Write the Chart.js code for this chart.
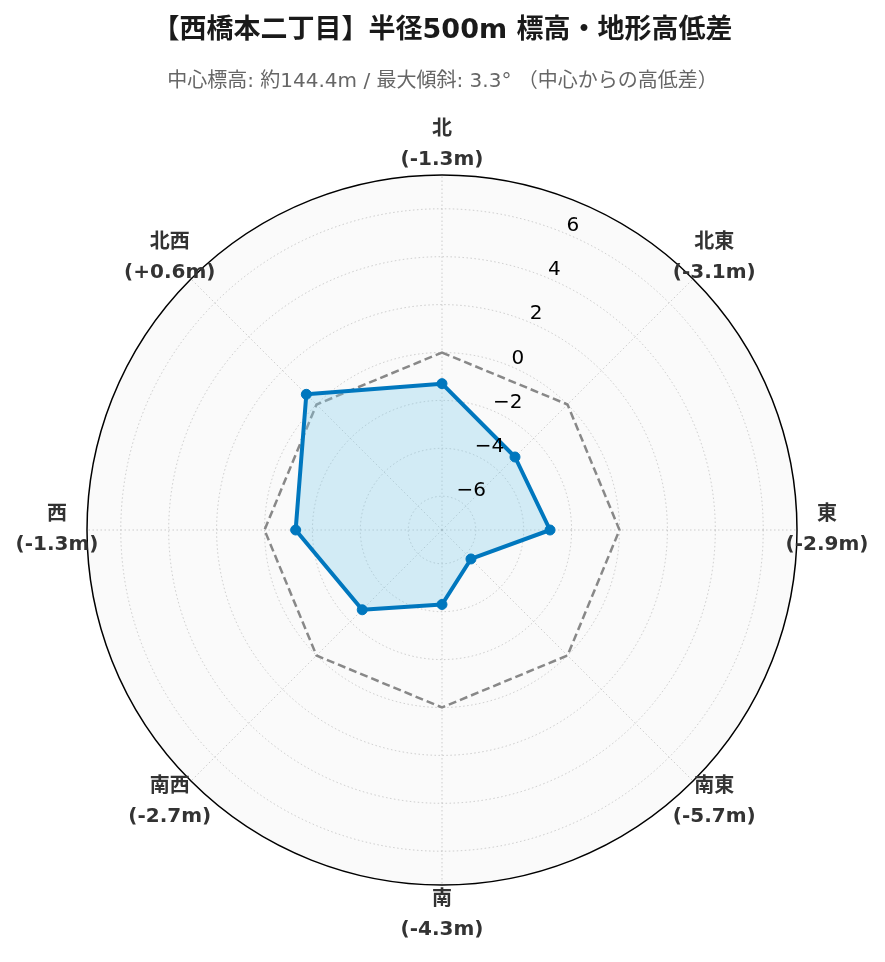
<!DOCTYPE html>
<html lang="ja">
<head>
<meta charset="utf-8">
<title>西橋本二丁目 標高・地形高低差</title>
<script src="https://cdn.jsdelivr.net/npm/chart.js@4.4.1/dist/chart.umd.min.js"></script>
<style>
  html, body { margin: 0; padding: 0; background: #ffffff; }
  #wrap { position: relative; width: 885px; height: 962px; }
</style>
</head>
<body>
<div id="wrap"><canvas id="terrainChart"></canvas></div>
<script>
// directions clockwise from north
const directions = ['北', '北東', '東', '南東', '南', '南西', '西', '北西'];
// height difference from the centre point (m)
const heightDiff = [-1.3, -3.1, -2.9, -5.7, -4.3, -2.7, -1.3, 0.6];
const zeroLine = [0, 0, 0, 0, 0, 0, 0, 0];
const radialTicks = [-6, -4, -2, 0, 2, 4, 6];
const rMin = -7.41;
const rMax = 7.41;

const FONT = '"DejaVu Sans", "Noto Sans CJK JP", sans-serif';
const GRID = 'rgba(160, 160, 160, 0.5)';

function fmtDiff(v) {
  return '(' + (v > 0 ? '+' : '') + v.toFixed(1) + 'm)';
}
function fmtTick(v) {
  return v < 0 ? '\u2212' + Math.abs(v) : String(v);
}

// light background inside the polar area
const polarBackground = {
  id: 'polarBackground',
  beforeDraw(chart) {
    const s = chart.scales.r;
    const ctx = chart.ctx;
    ctx.save();
    ctx.beginPath();
    ctx.arc(s.xCenter, s.yCenter, s.drawingArea, 0, Math.PI * 2);
    ctx.fillStyle = '#fafafa';
    ctx.fill();
    ctx.restore();
  }
};

// outer ring, radial tick labels and direction labels
const polarDecor = {
  id: 'polarDecor',
  afterDraw(chart) {
    const s = chart.scales.r;
    const ctx = chart.ctx;
    ctx.save();

    ctx.beginPath();
    ctx.arc(s.xCenter, s.yCenter, s.drawingArea, 0, Math.PI * 2);
    ctx.strokeStyle = '#000000';
    ctx.lineWidth = 1.5;
    ctx.stroke();

    // r tick labels along 22.5 deg
    const a = 22.5 * Math.PI / 180;
    ctx.font = '20px ' + FONT;
    ctx.fillStyle = '#000000';
    ctx.textAlign = 'left';
    ctx.textBaseline = 'alphabetic';
    radialTicks.forEach(v => {
      const d = s.getDistanceFromCenterForValue(v);
      const x = s.xCenter + d * Math.sin(a) + 1.5;
      const y = s.yCenter - d * Math.cos(a) - 2.5;
      ctx.fillText(fmtTick(v), x, y);
    });

    // direction labels
    ctx.font = 'bold 20px ' + FONT;
    ctx.fillStyle = '#333333';
    ctx.textAlign = 'center';
    ctx.textBaseline = 'middle';
    chart.data.labels.forEach((lab, i) => {
      const p = s.getPointPosition(i, s.drawingArea + 30);
      ctx.fillText(lab, p.x, p.y - 15);
      ctx.fillText(fmtDiff(heightDiff[i]), p.x, p.y + 15);
    });
    ctx.restore();
  }
};

new Chart(document.getElementById('terrainChart'), {
  type: 'radar',
  data: {
    labels: directions,
    datasets: [
      {
        label: '高低差',
        data: heightDiff,
        borderColor: '#0077BE',
        backgroundColor: 'rgba(135, 206, 235, 0.35)',
        borderWidth: 4,
        borderJoinStyle: 'round',
        fill: 'start',
        pointRadius: 5,
        pointBackgroundColor: '#0077BE',
        pointBorderColor: '#0077BE',
        pointBorderWidth: 1,
        order: 0
      },
      {
        label: '中心標高',
        data: zeroLine,
        borderColor: '#888888',
        borderWidth: 2.5,
        borderDash: [8, 4],
        fill: false,
        pointRadius: 0,
        order: 1
      }
    ]
  },
  options: {
    responsive: true,
    maintainAspectRatio: false,
    animation: false,
    layout: { padding: { top: 0, left: 87, right: 87, bottom: 76 } },
    plugins: {
      legend: { display: false },
      tooltip: { enabled: false },
      title: {
        display: true,
        text: '【西橋本二丁目】半径500m 標高・地形高低差',
        color: '#1a1a1a',
        font: { family: FONT, size: 27, weight: 'bold' },
        padding: { top: 14.5, bottom: 0 }
      },
      subtitle: {
        display: true,
        text: '中心標高: 約144.4m / 最大傾斜: 3.3° （中心からの高低差）',
        color: '#666666',
        font: { family: FONT, size: 20, weight: 'normal' },
        padding: { top: 23.1, bottom: 81 }
      }
    },
    scales: {
      r: {
        min: rMin,
        max: rMax,
        startAngle: 0,
        afterBuildTicks(scale) {
          scale.ticks = [rMin].concat(radialTicks).map(v => ({ value: v }));
        },
        ticks: { display: false },
        pointLabels: { display: false },
        grid: {
          circular: true,
          color: GRID,
          lineWidth: 1,
          borderDash: [1.5, 2.5]
        },
        border: { dash: [1.5, 2.5] },
        angleLines: {
          color: GRID,
          lineWidth: 1,
          borderDash: [1.5, 2.5]
        }
      }
    }
  },
  plugins: [polarBackground, polarDecor]
});
</script>
</body>
</html>
